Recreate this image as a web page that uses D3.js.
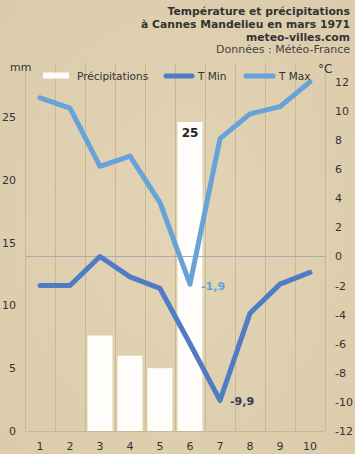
<!DOCTYPE html>
<html><head><meta charset="utf-8">
<script src="https://cdn.jsdelivr.net/npm/d3@7"></script>
<style>
html,body{margin:0;padding:0;background:#e0d2b2;}
svg{display:block;font-family:"DejaVu Sans",Verdana,sans-serif;}
</style></head>
<body><div id="chart"></div>
<script>
const days = [1,2,3,4,5,6,7,8,9,10];
const precip = [0,0,7.6,6.0,5.0,24.6,0,0,0,0];
const tMin = [-2.0,-2.0,0.0,-1.4,-2.2,-6.0,-9.9,-3.9,-1.9,-1.1];
const tMax = [10.9,10.2,6.2,6.9,3.7,-1.9,8.1,9.8,10.3,12.0];
const leftTicks = [0,5,10,15,20,25];
const rightTicks = [-12,-10,-8,-6,-4,-2,0,2,4,6,8,10,12];
const titleLines = ["Température et précipitations","à Cannes Mandelieu en mars 1971","meteo-villes.com"];
const sourceLine = "Données : Météo-France";

const W=355,H=454;
const m={left:25,right:30,top:63,bottom:23};
const svg=d3.select("#chart").append("svg").attr("width",W).attr("height",H);

const defs=svg.append("defs");
const grad=defs.append("radialGradient").attr("id","bg").attr("cx","50%").attr("cy","50%").attr("r","75%");
grad.append("stop").attr("offset","0%").attr("stop-color","#e2d4b5");
grad.append("stop").attr("offset","100%").attr("stop-color","#dbcbab");
svg.append("rect").attr("width",W).attr("height",H).attr("fill","url(#bg)");

const x=d3.scaleBand().domain(days).range([m.left,W-m.right]).paddingInner(0).paddingOuter(0);
const yL=d3.scaleLinear().domain([0,29.3]).range([H-m.bottom,m.top]);
const yR=d3.scaleLinear().domain([-12,13.3]).range([H-m.bottom,m.top]);
const bottom=H-m.bottom;

const gridX=days.map(d=>x(d)).concat([x(days[days.length-1])+x.bandwidth()]);
svg.append("g").selectAll("line").data(gridX).join("line")
  .attr("x1",d=>d).attr("x2",d=>d).attr("y1",m.top).attr("y2",bottom)
  .attr("stroke","#c8b894").attr("stroke-width",1).attr("shape-rendering","crispEdges");
svg.append("line").attr("x1",m.left).attr("x2",W-m.right).attr("y1",bottom).attr("y2",bottom)
  .attr("stroke","#c8b894").attr("shape-rendering","crispEdges");

const bw=25;
svg.append("g").selectAll("rect").data(days.map((d,i)=>({d,v:precip[i]})).filter(o=>o.v>0)).join("rect")
  .attr("x",o=>x(o.d)+(x.bandwidth()-bw)/2).attr("width",bw)
  .attr("y",o=>yL(o.v)).attr("height",o=>bottom-yL(o.v))
  .attr("fill","#fffdf9");

svg.append("line").attr("x1",m.left).attr("x2",W-m.right).attr("y1",Math.round(yR(0))+0.5).attr("y2",Math.round(yR(0))+0.5)
  .attr("stroke","#a9adb1").attr("stroke-width",1);

const cx=d=>x(d)+x.bandwidth()/2;
const line=d3.line().x((v,i)=>cx(days[i])).y(v=>yR(v));
svg.append("path").attr("d",line(tMax)).attr("fill","none").attr("stroke","#67a2d8").attr("stroke-width",5).attr("stroke-linejoin","round").attr("stroke-linecap","round");
svg.append("path").attr("d",line(tMin)).attr("fill","none").attr("stroke","#4f7cc5").attr("stroke-width",5).attr("stroke-linejoin","round").attr("stroke-linecap","round");

const iMaxP=precip.indexOf(d3.max(precip));
svg.append("text").attr("x",cx(days[iMaxP])).attr("y",yL(precip[iMaxP])+15).attr("text-anchor","middle")
  .attr("font-size",12).attr("font-weight","bold").attr("fill","#222").text(d3.format(".0f")(precip[iMaxP]));
const fr=v=>d3.format(".1f")(v).replace(".",",").replace("−","-");
const iMinMax=tMax.indexOf(d3.min(tMax));
svg.append("text").attr("x",cx(days[iMinMax])+11).attr("y",yR(tMax[iMinMax])+6).attr("font-size",11).attr("font-weight","bold").attr("fill","#67a2d8").text(fr(tMax[iMinMax]));
const iMinMin=tMin.indexOf(d3.min(tMin));
svg.append("text").attr("x",cx(days[iMinMin])+10).attr("y",yR(tMin[iMinMin])+5).attr("font-size",11).attr("font-weight","bold").attr("fill","#2e3d52").text(fr(tMin[iMinMin]));

const tc="#333";
svg.append("g").selectAll("text").data(leftTicks).join("text")
  .attr("x",16).attr("y",d=>yL(d)+4).attr("text-anchor","end").attr("font-size",11).attr("fill",tc).text(d=>d);
svg.append("g").selectAll("text").data(rightTicks).join("text")
  .attr("x",335).attr("y",d=>yR(d)+4).attr("text-anchor","start").attr("font-size",11).attr("fill",tc).text(d=>d);
svg.append("g").selectAll("text").data(days).join("text")
  .attr("x",d=>cx(d)).attr("y",450).attr("text-anchor","middle").attr("font-size",11).attr("fill",tc).text(d=>d);
svg.append("text").attr("x",10).attr("y",71).attr("font-size",11).attr("fill",tc).text("mm");
svg.append("text").attr("x",318).attr("y",73).attr("font-size",12).attr("fill",tc).text("°C");

const lg=svg.append("g");
lg.append("rect").attr("x",43).attr("y",72.5).attr("width",26).attr("height",6).attr("fill","#fffdf9");
lg.append("text").attr("x",77).attr("y",80).attr("font-size",10.5).attr("fill",tc).text("Précipitations");
lg.append("line").attr("x1",166).attr("x2",192).attr("y1",76).attr("y2",76).attr("stroke","#4f7cc5").attr("stroke-width",5).attr("stroke-linecap","round");
lg.append("text").attr("x",198).attr("y",80).attr("font-size",10.5).attr("fill",tc).text("T Min");
lg.append("line").attr("x1",246).attr("x2",273).attr("y1",76).attr("y2",76).attr("stroke","#67a2d8").attr("stroke-width",5).attr("stroke-linecap","round");
lg.append("text").attr("x",279).attr("y",80).attr("font-size",10.5).attr("fill",tc).text("T Max");

const tg=svg.append("g").attr("text-anchor","end");
tg.selectAll("text.t").data(titleLines).join("text").attr("class","t")
  .attr("x",350).attr("y",(d,i)=>14.5+i*13.3).attr("font-size",10.8).attr("font-weight","bold").attr("fill","#333").text(d=>d);
tg.append("text").attr("x",350).attr("y",53).attr("font-size",11).attr("fill","#444").text(sourceLine);
</script></body></html>
